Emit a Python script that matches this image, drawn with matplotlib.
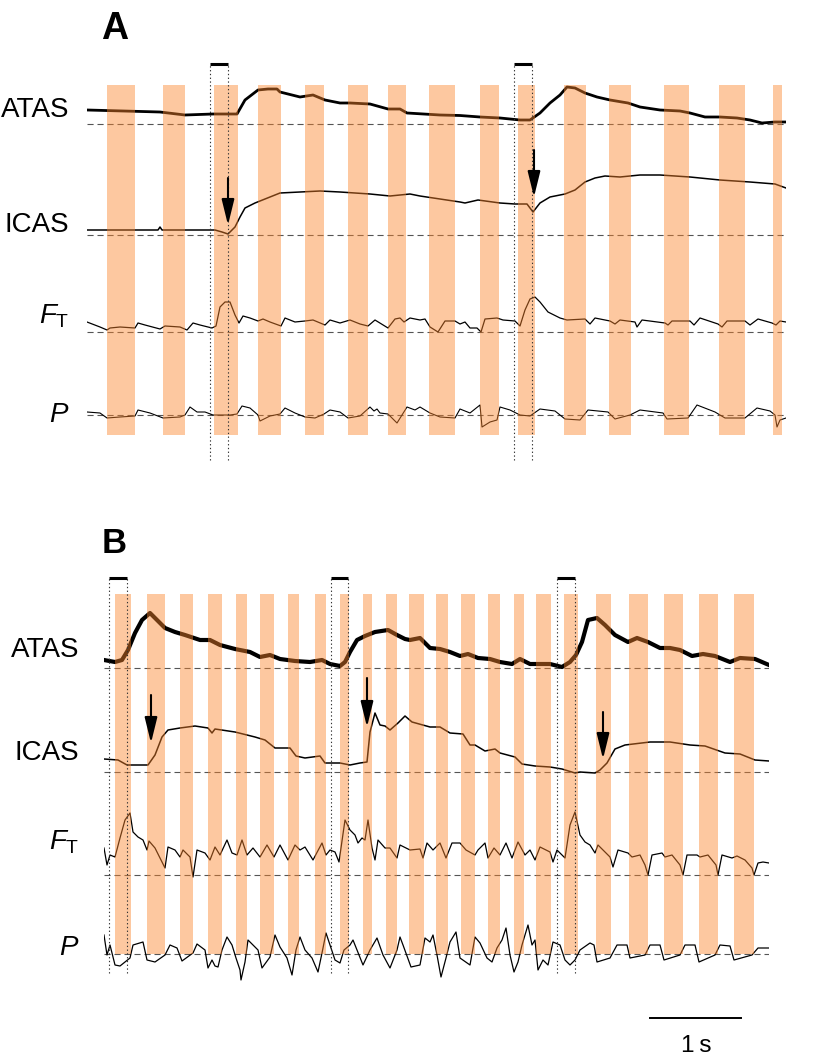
import numpy as np
import matplotlib.pyplot as plt

plt.rcParams['font.family'] = ['Liberation Sans', 'DejaVu Sans']
plt.rcParams['mathtext.fontset'] = 'custom'
plt.rcParams['mathtext.rm'] = 'Liberation Sans'
plt.rcParams['mathtext.it'] = 'Liberation Sans:italic'

# traces: (time in ms, amplitude above baseline, arbitrary units)
A_ATAS = [(0, 14), (803, 12), (1078, 9), (1386, 10), (1650, 10), (1738, 24), (1881, 34),
          (1991, 35), (2090, 35), (2123, 32), (2343, 27), (2486, 29), (2618, 24), (2783, 21),
          (2893, 21), (3113, 20), (3311, 15), (3443, 15), (3520, 11), (3883, 9), (4103, 8.5),
          (4323, 7), (4543, 6), (4763, 4), (4873, 4), (4983, 11), (5093, 21), (5203, 29),
          (5280, 37), (5368, 36), (5478, 31), (5610, 27), (5753, 24), (5951, 21), (6083, 17),
          (6303, 14), (6523, 13), (6633, 11), (6798, 7), (6963, 7), (7150, 6), (7293, 4),
          (7425, 1), (7568, 2), (7689, 2)]
A_ICAS = [(0, 5), (781, 5), (803, 8), (825, 5), (1243, 5), (1408, 5), (1485, 3), (1551, 1),
          (1628, 8), (1683, 18), (1738, 27), (1848, 32), (2013, 38), (2123, 42), (2343, 43),
          (2563, 44), (2783, 43), (3113, 41), (3333, 39), (3553, 41), (3663, 39), (3883, 36),
          (4103, 33), (4158, 32), (4301, 35), (4543, 32), (4708, 31), (4840, 31), (4906, 23),
          (4983, 32), (5093, 38), (5258, 41), (5368, 45), (5478, 53), (5588, 57), (5698, 59),
          (5863, 58), (6083, 60), (6303, 60), (6633, 58), (6963, 55), (7293, 53), (7568, 51),
          (7689, 47)]
A_FT = [(0, 10), (143, 5), (220, 2), (253, 4), (363, 5), (528, 4), (561, 9), (638, 7), (803, 3),
        (858, 6), (1023, 5), (1100, 2), (1166, 9), (1243, 7), (1375, 4), (1419, 6), (1463, 25),
        (1518, 30), (1573, 30), (1628, 17), (1672, 9), (1716, 16), (1793, 14), (1881, 11),
        (1936, 13), (2013, 10), (2134, 6), (2178, 14), (2288, 10), (2398, 11), (2486, 12),
        (2618, 7), (2673, 12), (2783, 9), (2893, 12), (3003, 8), (3091, 6), (3168, 12),
        (3311, 4), (3388, 13), (3443, 14), (3487, 10), (3553, 14), (3663, 12), (3718, 13),
        (3773, 5), (3861, 0), (3938, 11), (4048, 11), (4103, 8), (4158, 10), (4213, 4),
        (4290, 4), (4334, 0), (4378, 13), (4510, 14), (4576, 12), (4708, 11), (4763, 6),
        (4818, 22), (4873, 33), (4928, 35), (4983, 30), (5071, 20), (5203, 14), (5280, 12),
        (5478, 13), (5533, 8), (5588, 14), (5753, 11), (5808, 8), (5863, 12), (6028, 10),
        (6050, 5), (6105, 12), (6358, 9), (6391, 7), (6435, 11), (6633, 11), (6677, 7),
        (6743, 14), (6941, 8), (6985, 5), (7040, 11), (7238, 11), (7293, 7), (7381, 13),
        (7535, 9), (7579, 7), (7623, 11), (7689, 10)]
A_P = [(0, 3), (143, 2), (220, -3), (363, -2), (528, -1), (561, 5), (693, 2), (836, -3),
       (1023, -2), (1078, 0), (1133, 8), (1210, 3), (1298, 3), (1386, 0), (1573, 0), (1650, 1),
       (1705, 9), (1793, 7), (1881, 0), (1903, -6), (2013, -1), (2123, 1), (2178, 7), (2288, 2),
       (2398, -2), (2508, -3), (2607, 1), (2673, 5), (2783, 3), (2871, -3), (3003, -1),
       (3113, 8), (3157, 4), (3190, 6), (3223, 2), (3311, 1), (3410, -8), (3465, 0), (3520, 8),
       (3608, 5), (3663, 8), (3773, 2), (3883, -2), (4048, -3), (4103, 6), (4213, 2),
       (4323, 10), (4345, -12), (4433, -7), (4510, -5), (4543, 8), (4653, 5), (4763, 0),
       (4873, -1), (4983, 6), (5148, 4), (5258, -4), (5423, -5), (5511, 5), (5731, 3),
       (5808, -4), (5973, 0), (6083, 5), (6336, 2), (6380, -4), (6611, -3), (6710, 10),
       (6908, 3), (7018, -3), (7238, -3), (7370, 7), (7513, 4), (7568, 0), (7590, -12),
       (7623, -5), (7689, -3)]

B_ATAS = [(0, 8), (121, 6), (198, 8), (264, 18), (341, 35), (418, 48), (506, 55), (583, 48),
          (671, 40), (781, 36), (891, 33), (1056, 28), (1166, 28), (1276, 23), (1441, 19),
          (1606, 16), (1716, 11), (1826, 13), (1936, 9), (2101, 7), (2266, 6), (2398, 8),
          (2486, 4), (2596, 2), (2651, 6), (2706, 16), (2783, 28), (2871, 32), (2981, 36),
          (3124, 38), (3223, 33), (3311, 29), (3366, 28), (3476, 30), (3586, 20), (3696, 19),
          (3806, 16), (3916, 12), (4004, 14), (4114, 10), (4246, 9), (4356, 6), (4488, 4),
          (4576, 9), (4686, 4), (4906, 4), (5038, 1), (5126, 6), (5192, 13), (5258, 26),
          (5324, 48), (5423, 50), (5511, 43), (5621, 33), (5764, 26), (5863, 30), (5984, 26),
          (6116, 20), (6226, 20), (6336, 18), (6468, 12), (6589, 14), (6721, 12), (6886, 6),
          (6996, 10), (7161, 9), (7315, 3)]
B_ICAS = [(0, 13), (154, 12), (253, 7), (396, 7), (484, 7), (561, 17), (638, 35), (704, 42),
          (836, 44), (1001, 46), (1144, 44), (1188, 39), (1221, 43), (1441, 40), (1661, 35),
          (1771, 32), (1881, 24), (2046, 24), (2112, 16), (2211, 14), (2376, 16), (2431, 9),
          (2596, 9), (2706, 7), (2816, 9), (2893, 10), (2926, 40), (2981, 59), (3036, 47),
          (3091, 46), (3146, 42), (3234, 49), (3311, 56), (3388, 50), (3586, 45), (3696, 45),
          (3806, 39), (3949, 38), (4026, 27), (4081, 27), (4191, 21), (4301, 23), (4356, 19),
          (4521, 15), (4598, 8), (4741, 6), (4906, 5), (5038, 3), (5181, -1), (5236, 0),
          (5401, -1), (5456, 2), (5533, 9), (5621, 23), (5731, 27), (6006, 30), (6226, 30),
          (6446, 27), (6611, 26), (6831, 19), (6996, 18), (7161, 12), (7315, 11)]
B_FT = [(0, 27), (33, 10), (66, 20), (121, 18), (176, 37), (231, 55), (286, 62), (319, 43),
        (374, 38), (429, 35), (473, 25), (495, 34), (561, 27), (638, 13), (671, 7), (704, 28),
        (781, 25), (836, 18), (869, 25), (946, 18), (979, -2), (1023, 25), (1111, 22),
        (1166, 15), (1221, 28), (1276, 20), (1353, 35), (1408, 22), (1463, 20), (1518, 35),
        (1573, 20), (1639, 27), (1716, 18), (1793, 30), (1870, 18), (1936, 30), (2024, 15),
        (2101, 30), (2156, 25), (2211, 28), (2299, 15), (2398, 32), (2442, 20), (2486, 25),
        (2541, 23), (2585, 13), (2651, 55), (2706, 45), (2761, 40), (2794, 32), (2838, 37),
        (2871, 35), (2904, 55), (2948, 27), (2981, 15), (3014, 35), (3091, 27), (3146, 27),
        (3223, 17), (3256, 30), (3366, 25), (3476, 26), (3509, 17), (3553, 32), (3619, 25),
        (3696, 32), (3762, 17), (3828, 32), (3916, 32), (3982, 25), (4081, 20), (4114, 25),
        (4191, 32), (4224, 17), (4290, 27), (4356, 20), (4422, 32), (4488, 17), (4554, 33),
        (4631, 20), (4686, 25), (4741, 15), (4796, 28), (4906, 23), (4939, 13), (4983, 25),
        (5071, 17), (5126, 50), (5181, 63), (5236, 40), (5291, 33), (5346, 30), (5401, 22),
        (5434, 30), (5566, 18), (5599, 8), (5654, 25), (5764, 22), (5808, 18), (5896, 20),
        (5951, 10), (5984, 0), (6028, 20), (6138, 22), (6171, 18), (6248, 20), (6336, 10),
        (6369, 0), (6413, 20), (6523, 20), (6556, 18), (6644, 20), (6732, 10), (6754, 0),
        (6798, 20), (6908, 17), (6963, 19), (7051, 15), (7128, 7), (7150, 0), (7194, 12),
        (7249, 13), (7315, 12)]
B_P = [(0, 19), (33, -1), (66, 9), (121, -11), (176, -12), (286, -4), (319, 9), (429, 12),
       (473, -6), (561, -8), (671, -1), (726, 9), (803, 6), (858, -7), (979, 1), (1023, 10),
       (1111, 4), (1144, -14), (1188, -6), (1221, -12), (1254, -13), (1298, 4), (1353, 17),
       (1408, 9), (1452, -4), (1496, -16), (1507, -26), (1551, -8), (1584, 14), (1628, 10),
       (1694, 4), (1738, -14), (1826, -3), (1881, 19), (1936, 7), (2013, -4), (2068, -21),
       (2112, 4), (2156, 17), (2211, 4), (2288, -4), (2354, -18), (2398, 1), (2442, 21),
       (2486, 9), (2541, -6), (2596, -9), (2640, 4), (2706, 9), (2739, 14), (2783, 4),
       (2849, -11), (2926, 4), (3003, 16), (3069, -1), (3146, -14), (3223, 4), (3256, 17),
       (3289, 9), (3377, -13), (3476, -11), (3531, 16), (3586, 12), (3619, 19), (3663, -1),
       (3707, -23), (3762, -4), (3806, 12), (3872, 22), (3916, -4), (4026, -11), (4081, 17),
       (4136, 11), (4213, -4), (4268, -8), (4323, 6), (4378, 14), (4422, 26), (4466, -1),
       (4510, -18), (4554, -8), (4598, 9), (4664, 29), (4708, 9), (4741, 14), (4774, -16),
       (4829, -6), (4884, -11), (4939, 12), (5016, 9), (5071, -6), (5126, -11), (5181, -6),
       (5236, 4), (5346, 11), (5390, 9), (5423, -8), (5566, -4), (5643, 9), (5753, 9),
       (5786, -4), (5951, -1), (6006, 9), (6116, 9), (6160, -6), (6336, -1), (6391, 9),
       (6501, 9), (6545, -8), (6721, -1), (6776, 9), (6886, 8), (6930, -6), (7128, -1),
       (7194, 6), (7315, 6)]

# stimulation windows (ms)
A_STIM = [(220, 528), (836, 1078), (1397, 1661), (1881, 2134), (2398, 2607), (2871, 3091),
          (3311, 3509), (3762, 4048), (4323, 4532), (4741, 4928), (5247, 5489), (5742, 5984),
          (6347, 6622), (6952, 7238), (7546, 7645)]
B_STIM = [(121, 297), (473, 671), (836, 979), (1144, 1298), (1452, 1573), (1716, 1870),
          (2024, 2145), (2321, 2442), (2596, 2695), (2849, 2948), (3102, 3223), (3355, 3520),
          (3652, 3784), (3927, 4081), (4224, 4356), (4510, 4620), (4752, 4917), (5060, 5214),
          (5412, 5577), (5775, 5984), (6160, 6369), (6545, 6754), (6930, 7150)]
# marked windows (dotted) and response onsets (arrows)
A_WIN = [(1353, 1551), (4697, 4895)]
B_WIN = [(55, 253), (2497, 2684), (4983, 5181)]
A_ONSET = [1551, 4917]
B_ONSET = [517, 2893, 5489]
NAMES = ['ATAS', 'ICAS', r'$F_{\rm T}$', r'$P$']

W, H = 819, 1061
fig = plt.figure(figsize=(W / 100, H / 100), dpi=100)

STIM_COLOR = '#FB852C'
DASH = (0, (5.5, 3.5))


def draw_trace(ax, data, base, lw):
    d = np.array(data, dtype=float)
    ax.plot(d[:, 0], d[:, 1] + base, color='k', lw=lw, zorder=2, solid_joinstyle='round')
    ax.axhline(base, color='#555555', lw=0.8, ls=DASH, zorder=1)


def panel(rect, tmax, ymax, traces, bases, lws, stim, bar_y, wins, win_y, arrows):
    ax = fig.add_axes(rect)
    ax.set_xlim(0, tmax)
    ax.set_ylim(0, ymax)
    ax.axis('off')
    for data, base, lw in zip(traces, bases, lws):
        draw_trace(ax, data, base, lw)
    on = np.array([s[0] for s in stim])
    off = np.array([s[1] for s in stim])
    ax.bar(on, bar_y[1] - bar_y[0], width=off - on, bottom=bar_y[0], align='edge',
           color=STIM_COLOR, alpha=0.45, lw=0, zorder=3)
    for t0, t1 in wins:
        ax.vlines([t0, t1], win_y[0], win_y[1], colors='#333333', lw=0.8,
                  linestyles=(0, (1.2, 2.2)), zorder=4)
        ax.hlines(win_y[1], t0, t1, colors='k', lw=2.2, zorder=4)
    for t, y0, y1 in arrows:
        ax.annotate('', xy=(t, y1), xytext=(t, y0),
                    arrowprops=dict(arrowstyle='-|>,head_length=1.3,head_width=0.32',
                                    mutation_scale=12, lw=1.5, color='k',
                                    shrinkA=0, shrinkB=0), zorder=5)
    return ax


# panel A: 1 px = 11 ms, y unit = 1 px
axA = panel([87 / W, 1 - 480 / H, 699 / W, 480 / H], 7689, 480,
            [A_ATAS, A_ICAS, A_FT, A_P], [356, 245, 148, 65], [2.0, 1.1, 0.9, 0.8],
            A_STIM, (45, 395), A_WIN, (20, 416),
            [(A_ONSET[0], 302, 255), (A_ONSET[1], 330, 283)])

axB = panel([104 / W, 0, 665 / W, 491 / H], 7315, 491,
            [B_ATAS, B_ICAS, B_FT, B_P], [393, 289, 186, 107], [3.0, 1.1, 0.9, 0.9],
            B_STIM, (107, 467), B_WIN, (88, 483),
            [(B_ONSET[0], 366, 318), (B_ONSET[1], 383, 334), (B_ONSET[2], 349, 302)])

# scale bar 1 s
axB.plot([6010, 7010], [43, 43], color='k', lw=1.4, clip_on=False)
axB.text(6510, 9, '1\u2009s', ha='center', va='baseline', fontsize=17.5)


def label(x, y, s, **kw):
    fig.text(x / W, 1 - y / H, s, va='baseline', **kw)


label(101, 39, 'A', fontsize=27, fontweight='bold')
label(102, 553, 'B', fontsize=25, fontweight='bold')
for name, y in zip(NAMES, [117, 232, 323, 422]):
    label(69, y, name, fontsize=20, ha='right')
for name, y in zip(NAMES, [657, 760, 850, 955]):
    label(79, y, name, fontsize=20, ha='right')

fig.savefig('out.png', dpi=100)
